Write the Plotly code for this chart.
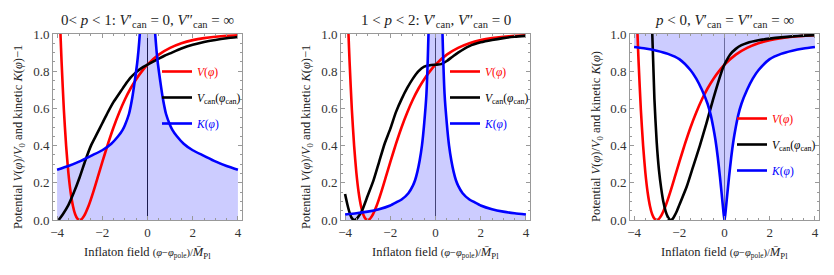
import plotly.graph_objects as go

# ---------------- data ----------------
# Potential V(phi)/V0 (same in all three panels)
PHI_V = [-3.9, -3.85, -3.8, -3.7, -3.6, -3.5, -3.4, -3.3, -3.2, -3.1, -3.0, -2.9, -2.8,
         -2.6, -2.4, -2.2, -2.0, -1.75, -1.5, -1.25, -1.0, -0.75, -0.5, -0.25, 0.0,
         0.5, 1.0, 1.5, 2.0, 2.5, 3.0, 3.5, 4.0]
V_POT = [1.177, 1.004, 0.850, 0.594, 0.400, 0.254, 0.149, 0.077, 0.031, 0.007, 0.0, 0.006, 0.023,
         0.078, 0.150, 0.230, 0.311, 0.409, 0.499, 0.578, 0.648, 0.707, 0.757, 0.799, 0.835,
         0.889, 0.925, 0.950, 0.967, 0.978, 0.985, 0.990, 0.993]

# Panel 1 (0<p<1)
PHI_CAN_1 = [-3.93, -3.75, -3.5, -3.25, -3.0, -2.75, -2.5, -2.25, -2.0, -1.75, -1.5, -1.25,
             -1.0, -0.75, -0.5, -0.25, 0.0, 0.25, 0.5, 0.75, 1.0, 1.5, 2.0, 2.5, 3.0, 3.5, 4.0]
V_CAN_1 = [0.0, 0.03, 0.08, 0.15, 0.23, 0.32, 0.40, 0.46, 0.52, 0.58, 0.635, 0.68,
           0.725, 0.765, 0.795, 0.818, 0.835, 0.852, 0.868, 0.883, 0.896, 0.922, 0.942, 0.957, 0.968, 0.977, 0.984]
ABS_PHI_K_1 = [0.03, 0.1, 0.2, 0.28, 0.34, 0.4, 0.46, 0.56, 0.67, 0.82, 1.0, 1.1, 1.3, 1.6,
               2.0, 2.5, 3.0, 3.5, 4.0]
K_1 = [3.5, 2.0, 1.35, 1.12, 1.0, 0.91, 0.84, 0.75, 0.66, 0.57, 0.51, 0.485, 0.45, 0.41,
       0.375, 0.345, 0.315, 0.29, 0.27]

# Panel 2 (1<p<2)
PHI_CAN_2 = [-4.0, -3.9, -3.8, -3.7, -3.6, -3.5, -3.4, -3.25, -3.0, -2.75, -2.5, -2.25, -2.0,
             -1.75, -1.5, -1.25, -1.0, -0.75, -0.5, -0.25, 0.0, 0.25, 0.5, 0.75, 1.0, 1.5,
             2.0, 2.5, 3.0, 3.5, 4.0]
V_CAN_2 = [0.14, 0.085, 0.04, 0.01, 0.0, 0.005, 0.02, 0.05, 0.13, 0.21, 0.31, 0.41, 0.49,
           0.58, 0.65, 0.71, 0.76, 0.80, 0.825, 0.832, 0.835, 0.838, 0.855, 0.878, 0.90, 0.935,
           0.955, 0.968, 0.978, 0.985, 0.99]
ABS_PHI_K_2 = [0.05, 0.12, 0.2, 0.26, 0.31, 0.4, 0.5, 0.6, 0.7, 0.8, 0.9, 1.0, 1.2, 1.5, 1.7,
               2.0, 2.5, 3.0, 3.5, 4.0]
K_2 = [6.0, 3.0, 1.8, 1.3, 1.0, 0.68, 0.52, 0.40, 0.32, 0.26, 0.215, 0.185, 0.144, 0.11, 0.097,
       0.078, 0.058, 0.045, 0.036, 0.03]

# Panel 3 (p<0)
PHI_CAN_3 = [-3.2, -3.1, -3.0, -2.9, -2.8, -2.7, -2.6, -2.5, -2.4, -2.3, -2.2, -2.1, -2.0,
             -1.67, -1.38, -1.09, -0.8, -0.51, -0.29, -0.07, 0.07, 0.25, 0.5, 0.75, 1.0, 1.5,
             2.0, 2.5, 3.0, 3.5, 4.0]
V_CAN_3 = [1.02, 0.65, 0.42, 0.27, 0.17, 0.095, 0.045, 0.015, 0.0, 0.005, 0.025, 0.05, 0.08,
           0.18, 0.29, 0.40, 0.52, 0.646, 0.736, 0.817, 0.853, 0.89, 0.92, 0.94, 0.952, 0.966,
           0.975, 0.982, 0.987, 0.991, 0.994]
ABS_PHI_K_3 = [0.0, 0.03, 0.06, 0.1, 0.15, 0.2, 0.3, 0.4, 0.5, 0.6, 0.75, 1.0, 1.25, 1.5,
               2.0, 2.5, 3.0, 3.5, 4.0]
K_3 = [0.0, 0.025, 0.06, 0.11, 0.17, 0.23, 0.34, 0.43, 0.50, 0.56, 0.625, 0.70, 0.76, 0.805,
       0.865, 0.893, 0.91, 0.922, 0.93]
FILL_TOP_3 = 1.0

TITLES = [
    "0< <i>p</i> < 1: <i>V</i>′<sub>can</sub> = 0, <i>V</i>″<sub>can</sub> = ∞",
    "1 < <i>p</i> < 2: <i>V</i>′<sub>can</sub>, <i>V</i>″<sub>can</sub> = 0",
    "<i>p</i> < 0, <i>V</i>′<sub>can</sub> = <i>V</i>″<sub>can</sub> = ∞",
]
Y_LABELS = [
    "Potential <i>V</i>(<i>φ</i>)/<i>V</i><sub>0</sub> and kinetic <i>K</i>(<i>φ</i>)−1",
    "Potential <i>V</i>(<i>φ</i>)/<i>V</i><sub>0</sub> and kinetic <i>K</i>(<i>φ</i>)−1",
    "Potential <i>V</i>(<i>φ</i>)/<i>V</i><sub>0</sub> and kinetic <i>K</i>(<i>φ</i>)",
]
X_LABEL = ("Inflaton field <span style='font-size:10.5px'>(<i>φ</i>−<i>φ</i><sub>pole</sub>)/</span>"
           "<i>M̄</i><sub>Pl</sub>")
X_TICKS = [-4, -2, 0, 2, 4]
X_TICK_TEXT = ["−4", "−2", "0", "2", "4"]
Y_TICKS = [0.0, 0.2, 0.4, 0.6, 0.8, 1.0]
Y_TICK_TEXT = ["0.0", "0.2", "0.4", "0.6", "0.8", "1.0"]

# ---------------- styling / layout ----------------
W, H = 834, 275
SERIF = "Liberation Serif"
RED, BLACK, BLUE = "#ff0000", "#000000", "#0000ff"
FILL = "rgba(0,0,255,0.2)"
LW = 2.6

# frame pixel boxes (left, right) and common top/bottom
FRAMES = [(53, 242), (341, 530), (630, 819)]
TOP_PX, BOT_PX = 34, 220
ZERO_COLORS = ["#222222", "#555555", "#888888"]
YLABEL_X = [19, 307, 597]
LEGEND_POS = [(157, 57), (445, 57), (732, 104)]


def mirror(absx, vals):
    xs = [-a for a in reversed(absx)] + list(absx)
    ys = list(reversed(vals)) + list(vals)
    return xs, ys


fig = go.Figure()

k_data = [mirror(ABS_PHI_K_1, K_1), mirror(ABS_PHI_K_2, K_2), mirror(ABS_PHI_K_3, K_3)]
can_data = [(PHI_CAN_1, V_CAN_1), (PHI_CAN_2, V_CAN_2), (PHI_CAN_3, V_CAN_3)]

for i in range(3):
    xa = "x" if i == 0 else f"x{i+1}"
    ya = "y" if i == 0 else f"y{i+1}"
    lg = "legend" if i == 0 else f"legend{i+1}"
    kx, ky = k_data[i]
    cx, cy = can_data[i]
    spl = dict(shape="spline", smoothing=0.6)
    if i < 2:
        fig.add_trace(go.Scatter(x=kx, y=ky, xaxis=xa, yaxis=ya, mode="lines",
                                 line=dict(width=0, color=BLUE, **spl), fill="tozeroy",
                                 fillcolor=FILL, showlegend=False, hoverinfo="skip"))
    else:
        fig.add_trace(go.Scatter(x=kx, y=[FILL_TOP_3] * len(kx), xaxis=xa, yaxis=ya, mode="lines",
                                 line=dict(width=0, color=BLUE), showlegend=False, hoverinfo="skip"))
        fig.add_trace(go.Scatter(x=kx, y=ky, xaxis=xa, yaxis=ya, mode="lines",
                                 line=dict(width=0, color=BLUE, **spl), fill="tonexty",
                                 fillcolor=FILL, showlegend=False, hoverinfo="skip"))
    fig.add_trace(go.Scatter(x=PHI_V, y=V_POT, xaxis=xa, yaxis=ya, mode="lines",
                             line=dict(width=LW, color=RED, **spl), legend=lg, legendgroup=f"v{i}",
                             name="<span style='color:#ff0000'><i>V</i>(<i>φ</i>)</span>"))
    fig.add_trace(go.Scatter(x=cx, y=cy, xaxis=xa, yaxis=ya, mode="lines",
                             line=dict(width=LW, color=BLACK, **spl), legend=lg, legendgroup=f"c{i}",
                             name="<i>V</i><sub>can</sub>(<i>φ</i><sub>can</sub>)"))
    fig.add_trace(go.Scatter(x=kx, y=ky, xaxis=xa, yaxis=ya, mode="lines",
                             line=dict(width=LW, color=BLUE, **spl), legend=lg, legendgroup=f"k{i}",
                             name="<span style='color:#0000ff'><i>K</i>(<i>φ</i>)</span>"))

layout = dict(width=W, height=H, margin=dict(l=0, r=0, t=0, b=0, autoexpand=False),
              paper_bgcolor="white", plot_bgcolor="white", template="none",
              font=dict(family=SERIF, size=12, color="#222222"))

axis_common = dict(showline=True, linecolor="#999999", linewidth=1, mirror="allticks",
                   ticks="inside", ticklen=4, tickcolor="#999999", showgrid=False,
                   automargin=False,
                   tickfont=dict(family=SERIF, size=13, color="#333333"))

annotations = []
for i, (l, r) in enumerate(FRAMES):
    sfx = "" if i == 0 else str(i + 1)
    ydom = [1 - BOT_PX / H, 1 - TOP_PX / H]
    layout[f"xaxis{sfx}"] = dict(axis_common, domain=[l / W, r / W], range=[-4.18, 4.18],
                                 anchor=f"y{sfx}", tickvals=X_TICKS, ticktext=X_TICK_TEXT,
                                 zeroline=True, zerolinecolor=ZERO_COLORS[i], zerolinewidth=1,
                                 minor=dict(ticks="inside", ticklen=2, dtick=0.5, tick0=0,
                                            tickcolor="#999999"))
    layout[f"yaxis{sfx}"] = dict(axis_common, domain=ydom, range=[0, 1.0],
                                 anchor=f"x{sfx}", tickvals=Y_TICKS, ticktext=Y_TICK_TEXT,
                                 zeroline=False,
                                 minor=dict(ticks="inside", ticklen=2, dtick=0.05, tick0=0,
                                            tickcolor="#999999"))
    cx = (l + r) / 2
    annotations.append(dict(text=TITLES[i], x=cx / W, y=1 - 21 / H, xref="paper", yref="paper",
                            showarrow=False, font=dict(family=SERIF, size=15, color="#222222"),
                            xanchor="center", yanchor="middle"))
    annotations.append(dict(text=X_LABEL, x=cx / W, y=1 - 253 / H, xref="paper", yref="paper",
                            showarrow=False, font=dict(family=SERIF, size=12.5, color="#222222"),
                            xanchor="center", yanchor="middle"))
    annotations.append(dict(text=Y_LABELS[i], x=YLABEL_X[i] / W, y=1 - 137 / H, xref="paper",
                            yref="paper", showarrow=False, textangle=-90,
                            font=dict(family=SERIF, size=12.5, color="#222222"),
                            xanchor="center", yanchor="middle"))
    lx, ly = LEGEND_POS[i]
    layout["legend" if i == 0 else f"legend{i+1}"] = dict(
        x=lx / W, y=1 - ly / H, xanchor="left", yanchor="top", bgcolor="rgba(0,0,0,0)",
        font=dict(family=SERIF, size=11.5, color="#000000"), traceorder="grouped",
        tracegroupgap=7, itemwidth=30)

layout["annotations"] = annotations
fig.update_layout(**layout)
fig.write_html("out.html", config={"displayModeBar": False},
               post_script="document.body.style.margin='0px';document.body.style.overflow='hidden';")
